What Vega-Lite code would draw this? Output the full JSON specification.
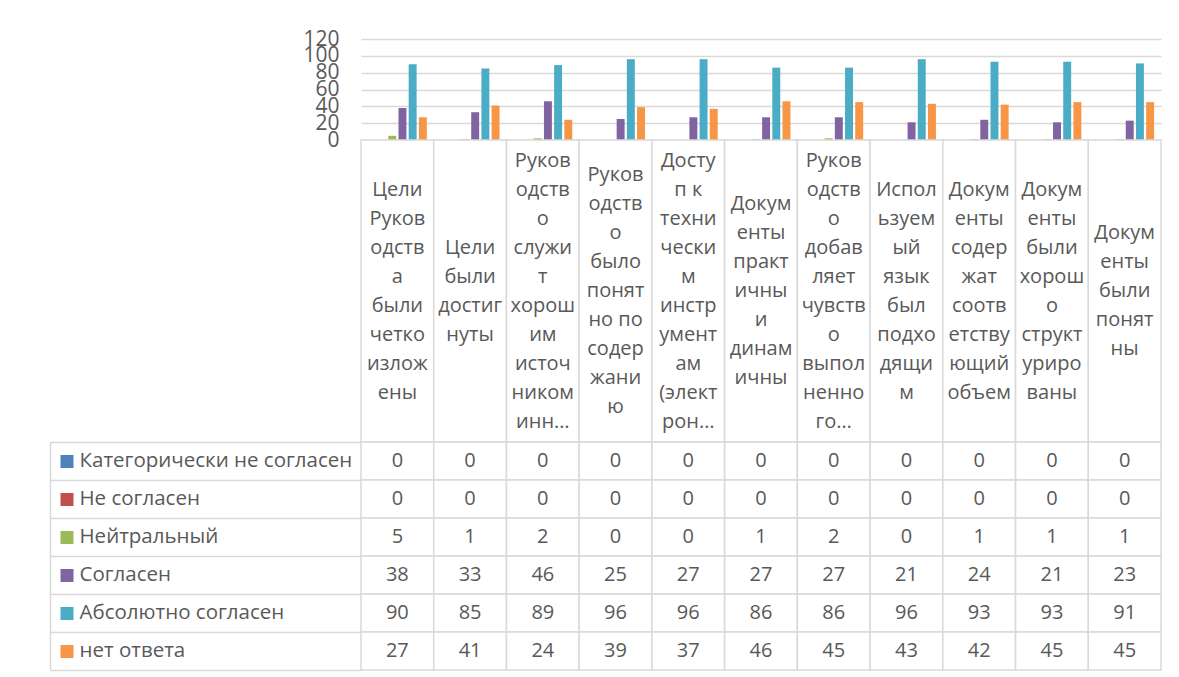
{
  "$schema": "https://vega.github.io/schema/vega-lite/v6.json",
  "padding": {"left": 49, "top": 28, "right": 5, "bottom": 5},
  "background": "white",
  "config": {"view": {"stroke": null}, "font": "Open Sans"},
  "datasets": {
    "survey": [
      {"cat": "Цели Руководства были четко изложены", "label": "Цели|Руков|одств|а|были|четко|излож|ены", "Категорически не согласен": 0, "Не согласен": 0, "Нейтральный": 5, "Согласен": 38, "Абсолютно согласен": 90, "нет ответа": 27},
      {"cat": "Цели были достигнуты", "label": "Цели|были|достиг|нуты", "Категорически не согласен": 0, "Не согласен": 0, "Нейтральный": 1, "Согласен": 33, "Абсолютно согласен": 85, "нет ответа": 41},
      {"cat": "Руководство служит хорошим источником инн…", "label": "Руков|одств|о|служи|т|хорош|им|источ|ником|инн…", "Категорически не согласен": 0, "Не согласен": 0, "Нейтральный": 2, "Согласен": 46, "Абсолютно согласен": 89, "нет ответа": 24},
      {"cat": "Руководство было понятно по содержанию", "label": "Руков|одств|о|было|понят|но по|содер|жани|ю", "Категорически не согласен": 0, "Не согласен": 0, "Нейтральный": 0, "Согласен": 25, "Абсолютно согласен": 96, "нет ответа": 39},
      {"cat": "Доступ к техническим инструментам (электрон…", "label": "Досту|п к|техни|чески|м|инстр|умент|ам|(элект|рон…", "Категорически не согласен": 0, "Не согласен": 0, "Нейтральный": 0, "Согласен": 27, "Абсолютно согласен": 96, "нет ответа": 37},
      {"cat": "Документы практичны и динамичны", "label": "Докум|енты|практ|ичны|и|динам|ичны", "Категорически не согласен": 0, "Не согласен": 0, "Нейтральный": 1, "Согласен": 27, "Абсолютно согласен": 86, "нет ответа": 46},
      {"cat": "Руководство добавляет чувство выполненного…", "label": "Руков|одств|о|добав|ляет|чувств|о|выпол|ненно|го…", "Категорически не согласен": 0, "Не согласен": 0, "Нейтральный": 2, "Согласен": 27, "Абсолютно согласен": 86, "нет ответа": 45},
      {"cat": "Используемый язык был подходящим", "label": "Испол|ьзуем|ый|язык|был|подхо|дящи|м", "Категорически не согласен": 0, "Не согласен": 0, "Нейтральный": 0, "Согласен": 21, "Абсолютно согласен": 96, "нет ответа": 43},
      {"cat": "Документы содержат соответствующий объем", "label": "Докум|енты|содер|жат|соотв|етству|ющий|объем", "Категорически не согласен": 0, "Не согласен": 0, "Нейтральный": 1, "Согласен": 24, "Абсолютно согласен": 93, "нет ответа": 42},
      {"cat": "Документы были хорошо структурированы", "label": "Докум|енты|были|хорош|о|структ|уриро|ваны", "Категорически не согласен": 0, "Не согласен": 0, "Нейтральный": 1, "Согласен": 21, "Абсолютно согласен": 93, "нет ответа": 45},
      {"cat": "Документы были понятны", "label": "Докум|енты|были|понят|ны", "Категорически не согласен": 0, "Не согласен": 0, "Нейтральный": 1, "Согласен": 23, "Абсолютно согласен": 91, "нет ответа": 45}
    ]
  },
  "spacing": 0,
  "bounds": "flush",
  "resolve": {"scale": {"x": "independent", "y": "independent"}},
  "vconcat": [
    {
      "width": 800,
      "height": 101,
      "data": {"name": "survey"},
      "transform": [{"fold": ["Категорически не согласен", "Не согласен", "Нейтральный", "Согласен", "Абсолютно согласен", "нет ответа"], "as": ["series", "value"]}],
      "mark": {"type": "bar"},
      "encoding": {
        "x": {"field": "cat", "type": "nominal", "sort": null, "scale": {"paddingInner": 0.19, "paddingOuter": 0.095}, "axis": null},
        "xOffset": {"field": "series", "type": "nominal", "sort": ["Категорически не согласен", "Не согласен", "Нейтральный", "Согласен", "Абсолютно согласен", "нет ответа"], "scale": {"paddingInner": 0.22, "paddingOuter": 0}},
        "y": {"field": "value", "type": "quantitative", "scale": {"domain": [0, 120], "nice": false},
          "axis": {"values": [0, 20, 40, 60, 80, 100, 120], "title": null, "domain": false, "ticks": false, "grid": true, "gridColor": "#d9d9d9", "gridWidth": 1.5, "labelFontSize": 21, "labelColor": "#595959", "labelPadding": 22, "labelOverlap": false, "labelFont": "Open Sans"}},
        "color": {"field": "series", "type": "nominal", "scale": {"domain": ["Категорически не согласен", "Не согласен", "Нейтральный", "Согласен", "Абсолютно согласен", "нет ответа"], "range": ["#4f81bd", "#c0504d", "#9bbb59", "#8064a2", "#4bacc6", "#f79646"]}, "legend": null}
      }
    },
    {
      "width": 800,
      "height": 302,
      "data": {"name": "survey"},
      "layer": [
        {
          "mark": {"type": "rect", "fill": "white", "stroke": "#d9d9d9", "strokeWidth": 1.5},
          "encoding": {"x": {"field": "cat", "type": "nominal", "sort": null, "scale": {"padding": 0}, "axis": null}}
        },
        {
          "mark": {"type": "text", "lineBreak": "|", "lineHeight": 29, "fontSize": 20, "color": "#595959", "font": "Open Sans",
            "dy": {"expr": "-(length(split(datum.label, '|')) - 1) * 14.5"}},
          "encoding": {"x": {"field": "cat", "type": "nominal", "sort": null, "axis": null}, "text": {"field": "label"}}
        }
      ]
    },
    {
      "width": 800,
      "height": 228,
      "data": {"name": "survey"},
      "transform": [{"fold": ["Категорически не согласен", "Не согласен", "Нейтральный", "Согласен", "Абсолютно согласен", "нет ответа"], "as": ["series", "value"]}],
      "resolve": {"axis": {"y": "independent"}},
      "layer": [
        {
          "mark": {"type": "rect", "fill": "white", "stroke": "#d9d9d9", "strokeWidth": 1.5},
          "encoding": {
            "x": {"field": "cat", "type": "nominal", "sort": null, "scale": {"padding": 0}, "axis": null},
            "y": {"field": "series", "type": "nominal", "sort": ["Категорически не согласен", "Не согласен", "Нейтральный", "Согласен", "Абсолютно согласен", "нет ответа"], "scale": {"padding": 0},
              "axis": {"orient": "left", "offset": 288, "title": null, "domain": false, "grid": false, "tickSize": 13, "tickWidth": 13,
                "tickColor": {"condition": [
                  {"test": "datum.value === 'Категорически не согласен'", "value": "#4f81bd"},
                  {"test": "datum.value === 'Не согласен'", "value": "#c0504d"},
                  {"test": "datum.value === 'Нейтральный'", "value": "#9bbb59"},
                  {"test": "datum.value === 'Согласен'", "value": "#8064a2"},
                  {"test": "datum.value === 'Абсолютно согласен'", "value": "#4bacc6"}
                ], "value": "#f79646"},
                "labelAlign": "left", "labelPadding": -19, "labelFontSize": 20.5, "labelColor": "#595959", "labelFont": "Open Sans", "labelLimit": 400}}
          }
        },
        {
          "mark": {"type": "text", "fontSize": 20, "color": "#595959", "font": "Open Sans"},
          "encoding": {
            "x": {"field": "cat", "type": "nominal", "sort": null, "axis": null},
            "y": {"field": "series", "type": "nominal", "sort": ["Категорически не согласен", "Не согласен", "Нейтральный", "Согласен", "Абсолютно согласен", "нет ответа"],
              "axis": {"orient": "left", "offset": 311, "title": null, "domain": true, "domainColor": "#d9d9d9", "domainWidth": 1.5, "tickBand": "extent", "tickSize": -311, "tickColor": "#d9d9d9", "tickWidth": 1.5, "labels": false, "grid": false}},
            "text": {"field": "value", "type": "quantitative"}
          }
        }
      ]
    }
  ]
}
